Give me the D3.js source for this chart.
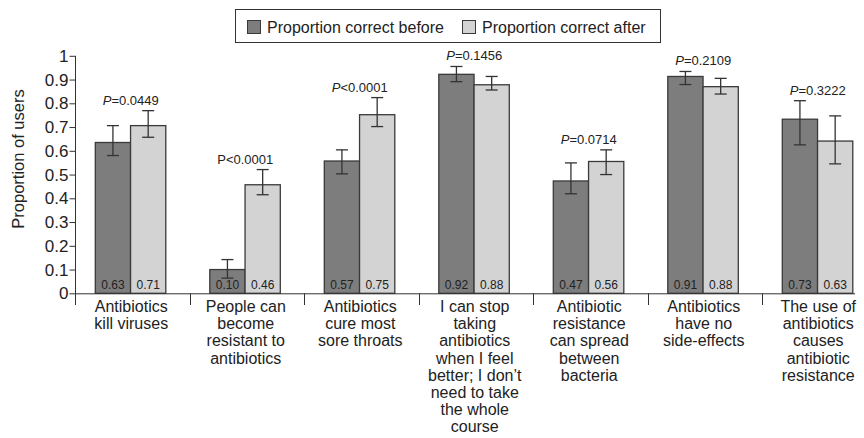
<!DOCTYPE html>
<html>
<head>
<meta charset="utf-8">
<script src="https://cdn.jsdelivr.net/npm/d3@7"></script>
<style>
  body { margin: 0; background: #fff; }
  text { font-family: "Liberation Sans", Arial, sans-serif; fill: #222; }
</style>
</head>
<body>
<div id="chart"></div>
<script>
// data
const categories = [
    ["Antibiotics", "kill viruses"],
    ["People can", "become", "resistant to", "antibiotics"],
    ["Antibiotics", "cure most", "sore throats"],
    ["I can stop", "taking", "antibiotics", "when I feel", "better; I don\u2019t", "need to take", "the whole", "course"],
    ["Antibiotic", "resistance", "can spread", "between", "bacteria"],
    ["Antibiotics", "have no", "side-effects"],
    ["The use of", "antibiotics", "causes", "antibiotic", "resistance"]
]
const before = [0.635, 0.10, 0.557, 0.922, 0.473, 0.913, 0.733]
const after = [0.706, 0.457, 0.752, 0.878, 0.555, 0.870, 0.641]
const beforeLabels = ["0.63", "0.10", "0.57", "0.92", "0.47", "0.91", "0.73"]
const afterLabels = ["0.71", "0.46", "0.75", "0.88", "0.56", "0.88", "0.63"]
const beforeLow = [0.580, 0.064, 0.503, 0.891, 0.419, 0.879, 0.625]
const beforeHigh = [0.706, 0.142, 0.604, 0.955, 0.549, 0.934, 0.811]
const afterLow = [0.657, 0.415, 0.702, 0.856, 0.500, 0.839, 0.545]
const afterHigh = [0.769, 0.521, 0.824, 0.913, 0.604, 0.905, 0.747]
const pValues = ["=0.0449", "<0.0001", "<0.0001", "=0.1456", "=0.0714", "=0.2109", "=0.3222"]
const pItalic = [true, false, true, true, true, true, true]
const yTicks = [0, 0.1, 0.2, 0.3, 0.4, 0.5, 0.6, 0.7, 0.8, 0.9, 1]
const seriesNames = ["Proportion correct before", "Proportion correct after"]
const seriesColors = ["#7d7d7d", "#d3d3d3"]

function main() {
    const width = 864, height = 438
    const svg = d3.select("#chart").append("svg")
        .attr("width", width)
        .attr("height", height)

    const idx = categories.map((d, i) => i)
    const x = d3.scaleBand().domain(idx).range([75, 876.5])
    const inner = d3.scaleBand().domain([0, 1]).range([20.3, 90.8])
    const y = d3.scaleLinear().domain([0, 1]).range([293.3, 55.8])

    const rows = idx.map(i => ({
        i: i,
        vals: [
            { s: 0, v: before[i], lo: beforeLow[i], hi: beforeHigh[i], lab: beforeLabels[i] },
            { s: 1, v: after[i], lo: afterLow[i], hi: afterHigh[i], lab: afterLabels[i] }
        ]
    }))

    // y axis
    const yAxis = svg.append("g")
        .attr("transform", "translate(75.5,0)")
        .call(d3.axisLeft(y).tickValues(yTicks).tickFormat(d3.format("")).tickSize(6).tickSizeOuter(0))
    yAxis.select(".domain").remove()
    yAxis.selectAll(".tick line").attr("stroke", "#333")
    yAxis.selectAll(".tick text")
        .attr("x", -7)
        .style("font-size", "17px")
        .attr("fill", "#222")
    yAxis.append("line")
        .attr("y1", y(1)).attr("y2", 305)
        .attr("stroke", "#333")

    svg.append("text")
        .attr("transform", "translate(24,159) rotate(-90)")
        .attr("text-anchor", "middle")
        .style("font-size", "16.5px")
        .text("Proportion of users")

    // bars
    const groups = svg.append("g").selectAll("g")
        .data(rows)
        .join("g")
        .attr("transform", d => `translate(${x(d.i)},0)`)

    groups.selectAll("rect")
        .data(d => d.vals)
        .join("rect")
        .attr("x", d => inner(d.s))
        .attr("width", inner.bandwidth())
        .attr("y", d => y(d.v))
        .attr("height", d => y(0) - y(d.v))
        .attr("fill", d => seriesColors[d.s])
        .attr("stroke", "#3a3a3a")
        .attr("stroke-width", 1.3)

    // error bars
    const err = groups.selectAll(".err")
        .data(d => d.vals)
        .join("g")
        .attr("class", "err")
        .attr("stroke", "#333")
        .attr("stroke-width", 1.3)
    err.append("line")
        .attr("x1", d => inner(d.s) + inner.bandwidth() / 2)
        .attr("x2", d => inner(d.s) + inner.bandwidth() / 2)
        .attr("y1", d => y(d.lo))
        .attr("y2", d => y(d.hi))
    err.selectAll(".cap")
        .data(d => [d.lo, d.hi].map(v => ({ s: d.s, v: v })))
        .join("line")
        .attr("class", "cap")
        .attr("x1", d => inner(d.s) + inner.bandwidth() / 2 - 6)
        .attr("x2", d => inner(d.s) + inner.bandwidth() / 2 + 6)
        .attr("y1", d => y(d.v))
        .attr("y2", d => y(d.v))

    // value labels inside bars
    groups.selectAll(".val")
        .data(d => d.vals)
        .join("text")
        .attr("class", "val")
        .attr("x", d => inner(d.s) + inner.bandwidth() / 2)
        .attr("y", 289)
        .attr("text-anchor", "middle")
        .style("font-size", "12px")
        .attr("fill", "#333")
        .text(d => d.lab)

    // P values
    const pText = groups.append("text")
        .attr("x", x.bandwidth() / 2 - 1.5)
        .attr("y", d => y(Math.max(beforeHigh[d.i], afterHigh[d.i])) - 6)
        .attr("text-anchor", "middle")
        .style("font-size", "13px")
        .attr("fill", "#333")
    pText.append("tspan")
        .style("font-style", d => pItalic[d.i] ? "italic" : "normal")
        .text("P")
    pText.append("tspan")
        .text(d => pValues[d.i])

    // x baseline and dividers
    svg.append("line")
        .attr("x1", 75).attr("x2", 855)
        .attr("y1", y(0) + 0.5).attr("y2", y(0) + 0.5)
        .attr("stroke", "#333")
    svg.append("g").selectAll("line")
        .data(idx.slice(1))
        .join("line")
        .attr("x1", d => Math.round(x(d)) + 0.5)
        .attr("x2", d => Math.round(x(d)) + 0.5)
        .attr("y1", y(0)).attr("y2", 305)
        .attr("stroke", "#333")

    // category labels
    groups.append("text")
        .attr("text-anchor", "middle")
        .style("font-size", "16px")
        .selectAll("tspan")
        .data(d => categories[d.i])
        .join("tspan")
        .attr("x", x.bandwidth() / 2 - 1)
        .attr("y", (d, j) => 312 + j * 17.2)
        .text(d => d)

    // legend
    const legend = svg.append("g")
    legend.append("rect")
        .attr("x", 235.5).attr("y", 9.5)
        .attr("width", 425).attr("height", 33)
        .attr("fill", "#fff")
        .attr("stroke", "#333")
    const legendX = [247, 462]
    seriesNames.forEach((name, i) => {
        legend.append("rect")
            .attr("x", legendX[i] + 0.5).attr("y", 20.5)
            .attr("width", 13).attr("height", 13)
            .attr("fill", seriesColors[i])
            .attr("stroke", "#3a3a3a")
        legend.append("text")
            .attr("x", legendX[i] + 20)
            .attr("y", 32.5)
            .style("font-size", "16px")
            .text(name)
    })
}
main()
</script>
</body>
</html>
